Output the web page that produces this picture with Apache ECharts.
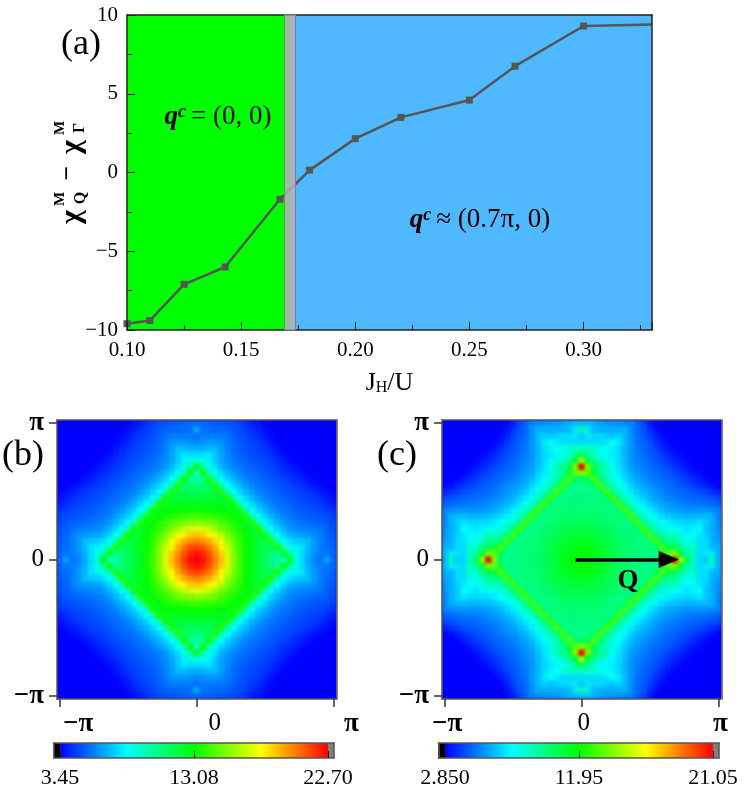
<!DOCTYPE html>
<html>
<head>
<meta charset="utf-8">
<style>
  html, body { margin: 0; padding: 0; background: #fff; }
  #heat, #chart { position: absolute; left: 0; top: 0; width: 747px; height: 796px; }
  /* the colour maps sit under the axes, softened so the cells read as a smooth map */
  #heat { filter: blur(1.6px); clip-path: path('M57 420h279.5v279h-279.5z M442 420h279.5v279h-279.5z'); }
</style>
<script src="https://cdn.jsdelivr.net/npm/echarts@6/dist/echarts.min.js"></script>
</head>
<body>
<div id="heat"></div>
<div id="chart"></div>
<script>
// panel (a)
const jhOverU = [0.10, 0.11, 0.125, 0.143, 0.167, 0.18, 0.20, 0.22, 0.25, 0.27, 0.30, 0.33];
const chiDiff = [-9.6, -9.4, -7.1, -6.0, -1.7, 0.15, 2.15, 3.5, 4.6, 6.75, 9.3, 9.4];
const phaseEdge = [0.169, 0.1738];
const phaseMid = 0.1715;

// panels (b) (c): values estimated by eye for the upper right quadrant only,
// row = distance from centre along y, column = distance from centre along x.
// the maps are symmetric so the other three quadrants are mirrored from it
const quadrantB = [
  [22.7,22.4,21.5,20.3,19.0,17.3,15.6,14.3,13.3,12.6,12.0,11.4,10.8,10.0,9.2,13.0,9.0,7.6,6.6,6.0,5.6,6.6,5.5],
  [22.4,22.0,21.2,20.0,18.8,17.1,15.5,14.2,13.3,12.6,12.0,11.5,11.0,10.2,13.4,10.0,8.8,7.6,6.8,6.2,5.8,5.6,5.4],
  [21.5,21.2,20.5,19.5,18.1,16.8,15.3,14.1,13.2,12.6,12.1,11.6,11.3,13.5,9.8,8.8,8.0,7.8,6.9,6.3,5.8,5.5,5.3],
  [20.3,20.0,19.5,18.6,17.5,16.0,15.0,13.9,13.1,12.6,12.1,11.8,13.6,9.8,8.4,7.7,7.3,7.2,7.0,6.3,5.8,5.4,5.2],
  [19.0,18.8,18.1,17.5,16.5,15.3,14.5,13.7,13.0,12.6,12.2,13.6,9.8,8.4,7.5,6.9,6.6,6.5,6.4,6.2,5.8,5.4,5.1],
  [17.3,17.1,16.8,16.0,15.3,14.6,14.0,13.4,12.9,12.4,13.6,9.8,8.4,7.5,6.9,6.4,6.1,6.0,5.9,5.8,5.6,5.3,5.0],
  [15.6,15.5,15.3,15.0,14.5,14.0,13.5,13.0,12.6,13.6,9.8,8.4,7.5,6.9,6.4,6.0,5.8,5.6,5.5,5.4,5.3,5.1,4.9],
  [14.3,14.2,14.1,13.9,13.7,13.4,13.0,12.7,13.6,9.8,8.4,7.5,6.9,6.4,6.0,5.7,5.5,5.3,5.2,5.1,5.0,4.9,4.7],
  [13.3,13.3,13.2,13.1,13.0,12.9,12.6,13.6,9.8,8.4,7.5,6.9,6.4,6.0,5.7,5.5,5.3,5.1,5.0,4.9,4.8,4.6,4.4],
  [12.6,12.6,12.6,12.6,12.6,12.4,13.6,9.8,8.4,7.5,6.9,6.4,6.0,5.7,5.5,5.3,5.1,4.9,4.8,4.7,4.5,4.3,4.0],
  [12.0,12.0,12.1,12.1,12.2,13.6,9.8,8.4,7.5,6.9,6.4,6.0,5.7,5.5,5.3,5.1,4.9,4.8,4.6,4.5,4.3,4.0,3.8],
  [11.4,11.5,11.6,11.8,13.6,9.8,8.4,7.5,6.9,6.4,6.0,5.7,5.5,5.3,5.1,4.9,4.8,4.6,4.4,4.2,3.9,3.7,3.5],
  [10.8,11.0,11.3,13.6,9.8,8.4,7.5,6.9,6.4,6.0,5.7,5.5,5.3,5.1,4.9,4.7,4.5,4.3,4.1,3.8,3.6,3.5,3.45],
  [10.0,10.2,13.5,9.8,8.4,7.5,6.9,6.4,6.0,5.7,5.5,5.3,5.1,4.9,4.7,4.5,4.3,4.0,3.8,3.5,3.45,3.45,3.45],
  [9.2,13.4,9.8,8.4,7.5,6.9,6.4,6.0,5.7,5.5,5.3,5.1,4.9,4.7,4.4,4.2,4.0,3.7,3.5,3.45,3.45,3.45,3.45],
  [13.0,10.0,8.8,7.7,6.9,6.4,6.0,5.7,5.5,5.3,5.1,4.9,4.7,4.5,4.2,4.0,3.7,3.5,3.45,3.45,3.45,3.45,3.45],
  [9.0,8.8,8.0,7.3,6.6,6.1,5.8,5.5,5.3,5.1,4.9,4.8,4.5,4.3,4.0,3.7,3.5,3.45,3.45,3.45,3.45,3.45,3.45],
  [7.6,7.6,7.8,7.2,6.5,6.0,5.6,5.3,5.1,4.9,4.8,4.6,4.3,4.0,3.7,3.5,3.45,3.45,3.45,3.45,3.45,3.45,3.45],
  [6.6,6.8,6.9,7.0,6.4,5.9,5.5,5.2,5.0,4.8,4.6,4.4,4.1,3.8,3.5,3.45,3.45,3.45,3.45,3.45,3.45,3.45,3.45],
  [6.0,6.2,6.3,6.3,6.2,5.8,5.4,5.1,4.9,4.7,4.5,4.2,3.8,3.5,3.45,3.45,3.45,3.45,3.45,3.45,3.45,3.45,3.45],
  [5.6,5.8,5.8,5.8,5.8,5.6,5.3,5.0,4.8,4.5,4.3,3.9,3.6,3.45,3.45,3.45,3.45,3.45,3.45,3.45,3.45,3.45,3.45],
  [6.6,5.6,5.5,5.4,5.4,5.3,5.1,4.9,4.6,4.3,4.0,3.7,3.5,3.45,3.45,3.45,3.45,3.45,3.45,3.45,3.45,3.45,3.45],
  [5.5,5.4,5.3,5.2,5.1,5.0,4.9,4.7,4.4,4.0,3.8,3.5,3.45,3.45,3.45,3.45,3.45,3.45,3.45,3.45,3.45,3.45,3.45]
];
const quadrantC = [
  [12.0,11.9,11.7,11.4,11.0,10.7,10.4,10.1,9.9,9.8,9.7,9.6,9.6,10.2,14.0,21.05,14.5,10.5,8.6,6.8,6.4,9.0,6.2],
  [11.9,11.9,11.6,11.4,11.0,10.7,10.4,10.1,9.9,9.8,9.7,9.6,9.6,10.4,13.6,14.0,11.0,9.2,8.5,6.8,7.0,7.0,6.2],
  [11.7,11.6,11.5,11.2,10.9,10.6,10.3,10.1,9.9,9.8,9.7,9.6,10.1,13.3,10.8,10.6,9.5,8.3,8.4,6.8,6.8,6.2,6.0],
  [11.4,11.4,11.2,11.0,10.8,10.5,10.2,10.0,9.9,9.8,9.7,10.0,13.2,10.0,9.5,9.4,8.4,7.6,8.0,6.8,6.8,6.0,5.8],
  [11.0,11.0,10.9,10.8,10.6,10.3,10.1,9.9,9.8,9.7,10.0,13.2,9.8,8.9,8.6,8.6,8.0,7.3,7.6,7.0,6.6,6.0,5.6],
  [10.7,10.7,10.6,10.5,10.3,10.1,9.9,9.8,9.7,10.0,13.1,9.7,8.7,8.0,7.8,7.7,7.3,7.0,7.2,7.4,6.4,6.0,5.5],
  [10.4,10.4,10.3,10.2,10.1,9.9,9.8,9.7,10.0,13.1,9.6,8.6,7.9,7.4,7.1,6.9,6.8,6.7,6.8,7.0,6.6,6.0,5.4],
  [10.1,10.1,10.1,10.0,9.9,9.8,9.7,10.0,13.1,9.6,8.5,7.8,7.2,6.8,6.5,6.3,6.2,6.1,6.1,6.2,6.2,6.0,5.3],
  [9.9,9.9,9.9,9.9,9.8,9.7,10.0,13.1,9.6,8.5,7.8,7.1,6.6,6.2,5.9,5.7,5.6,5.5,5.5,5.5,5.5,5.4,5.2],
  [9.8,9.8,9.8,9.8,9.7,10.0,13.1,9.6,8.5,7.6,7.0,6.5,6.1,5.8,5.6,5.4,5.2,5.1,5.0,4.9,4.8,4.7,4.6],
  [9.7,9.7,9.7,9.7,10.0,13.1,9.6,8.5,7.8,7.0,6.6,6.1,5.8,5.5,5.3,5.1,4.9,4.8,4.7,4.6,4.5,4.3,4.1],
  [9.6,9.6,9.6,10.0,13.2,9.7,8.6,7.8,7.1,6.5,6.1,5.8,5.5,5.2,5.0,4.8,4.7,4.5,4.4,4.2,4.0,3.7,3.4],
  [9.6,9.6,10.1,13.2,9.8,8.7,7.9,7.2,6.6,6.1,5.8,5.5,5.3,5.0,4.8,4.6,4.4,4.2,4.0,3.7,3.4,3.1,2.9],
  [10.2,10.4,13.3,10.0,8.9,8.0,7.4,6.8,6.2,5.8,5.5,5.2,5.0,4.8,4.6,4.4,4.1,3.9,3.6,3.3,3.0,2.85,2.85],
  [14.0,13.6,10.8,9.5,8.6,7.8,7.1,6.5,5.9,5.6,5.3,5.0,4.8,4.6,4.4,4.1,3.8,3.5,3.2,2.95,2.85,2.85,2.85],
  [21.05,14.0,10.6,9.4,8.6,7.7,6.9,6.3,5.7,5.4,5.1,4.8,4.6,4.4,4.1,3.8,3.5,3.2,2.95,2.85,2.85,2.85,2.85],
  [14.5,11.0,9.5,8.4,8.0,7.3,6.8,6.2,5.6,5.2,4.9,4.7,4.4,4.1,3.8,3.5,3.2,2.95,2.85,2.85,2.85,2.85,2.85],
  [10.5,9.2,8.3,7.6,7.3,7.0,6.7,6.1,5.5,5.1,4.8,4.5,4.2,3.9,3.5,3.2,2.95,2.85,2.85,2.85,2.85,2.85,2.85],
  [8.6,8.5,8.4,8.0,7.6,7.2,6.8,6.1,5.5,5.0,4.7,4.4,4.0,3.6,3.2,2.95,2.85,2.85,2.85,2.85,2.85,2.85,2.85],
  [6.8,6.8,6.8,6.8,7.0,7.4,7.0,6.2,5.5,4.9,4.6,4.2,3.7,3.3,2.95,2.85,2.85,2.85,2.85,2.85,2.85,2.85,2.85],
  [6.4,7.0,6.8,6.8,6.6,6.4,6.6,6.2,5.5,4.8,4.5,4.0,3.4,3.0,2.85,2.85,2.85,2.85,2.85,2.85,2.85,2.85,2.85],
  [9.0,7.0,6.2,6.0,6.0,6.0,6.0,6.0,5.4,4.7,4.3,3.7,3.1,2.85,2.85,2.85,2.85,2.85,2.85,2.85,2.85,2.85,2.85],
  [6.2,6.2,6.0,5.8,5.6,5.5,5.4,5.3,5.2,4.6,4.1,3.4,2.9,2.85,2.85,2.85,2.85,2.85,2.85,2.85,2.85,2.85,2.85]
];

// colour bars
const rangeB = [3.45, 22.70];
const rangeC = [2.85, 21.05];
const midB = 13.08;
const midC = 11.95;
const barLabelsB = ['3.45', '13.08', '22.70'];
const barLabelsC = ['2.850', '11.95', '21.05'];
const barLimitsB = [2.98, 23.13];
const barLimitsC = [2.395, 21.46];
const jetColors = ['#0000ff', '#00ffff', '#00ff00', '#ffff00', '#ff0000'];

const serif = '"Liberation Serif", serif';
const cellIdx = [];
for (let i = 0; i <= 44; i++) cellIdx.push(String(i));
const piLabels = { 0: '{p|\u2212\u03c0}', 22: '0', 44: '{p|\u03c0}' };

function mirror(q) {
  const out = [];
  for (let y = -22; y <= 22; y++) {
    for (let x = -22; x <= 22; x++) {
      out.push([x + 22, y + 22, q[Math.abs(y)][Math.abs(x)]]);
    }
  }
  return out;
}

// colour maps, lower layer
let heatChart = echarts.init(document.getElementById('heat'));
heatChart.setOption({
  backgroundColor: '#0000ff',
  animation: false,
  grid: [
    { left: 57, top: 420, width: 279.5, height: 279 },
    { left: 442, top: 420, width: 279.5, height: 279 }
  ],
  xAxis: [
    { type: 'category', gridIndex: 0, data: cellIdx, show: false },
    { type: 'category', gridIndex: 1, data: cellIdx, show: false }
  ],
  yAxis: [
    { type: 'category', gridIndex: 0, data: cellIdx, show: false },
    { type: 'category', gridIndex: 1, data: cellIdx, show: false }
  ],
  visualMap: [
    { show: false, seriesIndex: 0, min: rangeB[0], max: rangeB[1], inRange: { color: jetColors } },
    { show: false, seriesIndex: 1, min: rangeC[0], max: rangeC[1], inRange: { color: jetColors } }
  ],
  series: [
    { name: 'b', type: 'heatmap', xAxisIndex: 0, yAxisIndex: 0, data: mirror(quadrantB), progressive: 0, silent: true },
    { name: 'c', type: 'heatmap', xAxisIndex: 1, yAxisIndex: 1, data: mirror(quadrantC), progressive: 0, silent: true }
  ]
});

let myChart = echarts.init(document.getElementById('chart'));

function word(text, x, y, size, extra) {
  return Object.assign({
    type: 'text', x: x, y: y, z: 30,
    style: Object.assign({
      text: text, font: size + 'px ' + serif, fill: '#000',
      align: 'center', verticalAlign: 'middle'
    }, extra || {})
  });
}

function rotated(text, x, y, size, weight) {
  let el = word(text, x, y, size, { font: weight + ' ' + size + 'px ' + serif });
  el.rotation = Math.PI / 2;
  return el;
}

const mathRich = {
  q: { fontFamily: serif, fontSize: 27, fontStyle: 'italic', fontWeight: 'bold', fill: '#000' },
  c: { fontFamily: serif, fontSize: 18, fontStyle: 'italic', fontWeight: 'bold', fill: '#000', verticalAlign: 'top', padding: [0, 5, 8, 0] },
  t: { fontFamily: serif, fontSize: 27, fontWeight: 'normal', fill: '#000' }
};

function heatAxes(gridIndex, labelShift) {
  const tickAt = (i) => i === 0 || i === 22 || i === 44;
  const line = { show: true, lineStyle: { color: '#555', width: 1.5 } };
  const piRich = { p: { fontFamily: serif, fontSize: 27, fontWeight: 'bold', color: '#000' } };
  return {
    x: [
      { type: 'category', gridIndex: gridIndex, data: cellIdx, position: 'bottom', z: 5, axisLine: line,
        axisTick: { show: true, interval: (i) => tickAt(i), alignWithLabel: true, length: 8, lineStyle: { color: '#333', width: 1.5 } },
        axisLabel: { interval: (i) => tickAt(i), formatter: (v, i) => piLabels[i], margin: 12, fontFamily: serif, fontSize: 25, color: '#000', rich: piRich,
          padding: [0, 0, 0, labelShift] }, splitLine: { show: false } },
      { type: 'category', gridIndex: gridIndex, data: cellIdx, position: 'top', z: 5, axisLine: line,
        axisTick: { show: false }, axisLabel: { show: false } }
    ],
    y: [
      { type: 'category', gridIndex: gridIndex, data: cellIdx, position: 'left', z: 5, axisLine: line,
        axisTick: { show: true, interval: (i) => tickAt(i), alignWithLabel: true, length: 8, lineStyle: { color: '#333', width: 1.5 } },
        axisLabel: { interval: (i) => tickAt(i), formatter: (v, i) => piLabels[i], margin: 13, fontFamily: serif, fontSize: 25, color: '#000', rich: piRich },
        splitLine: { show: false } },
      { type: 'category', gridIndex: gridIndex, data: cellIdx, position: 'right', z: 5, axisLine: line,
        axisTick: { show: false }, axisLabel: { show: false } }
    ]
  };
}

function barAxes(gridIndex, limits, ticks, labels) {
  const line = { show: true, onZero: false, lineStyle: { color: '#555', width: 1.5 } };
  return {
    x: [
      { type: 'value', gridIndex: gridIndex, min: limits[0], max: limits[1], position: 'bottom', z: 5, splitLine: { show: false }, axisLine: line,
        axisTick: { show: true, inside: true, length: 7, customValues: ticks, lineStyle: { color: '#222', width: 1 } },
        axisLabel: { customValues: ticks, margin: 9, fontFamily: serif, fontSize: 22, color: '#000',
          formatter: (v) => labels[ticks.indexOf(v)] } },
      { type: 'value', gridIndex: gridIndex, min: limits[0], max: limits[1], position: 'top', z: 5, splitLine: { show: false }, axisLine: line,
        axisTick: { show: false }, axisLabel: { show: false } }
    ],
    y: [
      { type: 'category', gridIndex: gridIndex, data: ['bar'], position: 'left', z: 5, axisLine: { show: true, lineStyle: { color: '#555', width: 1.5 } },
        axisTick: { show: false }, axisLabel: { show: false } },
      { type: 'category', gridIndex: gridIndex, data: ['bar'], position: 'right', z: 5, axisLine: { show: true, lineStyle: { color: '#555', width: 1.5 } },
        axisTick: { show: false }, axisLabel: { show: false } }
    ]
  };
}

function barSeries(axisIndex, range, stackName) {
  const common = { type: 'bar', xAxisIndex: axisIndex, yAxisIndex: axisIndex, stack: stackName, barWidth: '100%', silent: true };
  const stops = jetColors.map((c, k) => ({ offset: k / 4, color: c }));
  return [
    Object.assign({}, common, { data: [range[0]], itemStyle: { color: '#000' } }),
    Object.assign({}, common, { data: [range[1] - range[0]], itemStyle: { color: new echarts.graphic.LinearGradient(0, 0, 1, 0, stops) } }),
    Object.assign({}, common, { data: [1], itemStyle: { color: '#808080' } })
  ];
}

const hb = heatAxes(1, 36);
const hc = heatAxes(2, 4);
const bb = barAxes(3, barLimitsB, [rangeB[0], midB, rangeB[1]], barLabelsB);
const bc = barAxes(4, barLimitsC, [rangeC[0], midC, rangeC[1]], barLabelsC);
const frameA = { show: true, onZero: false, lineStyle: { color: '#222', width: 1.5 } };
const lastPoint = jhOverU.length - 1;

let option = {
  animation: false,
  grid: [
    { left: 127, top: 15, width: 525, height: 315 },
    { left: 57, top: 420, width: 279.5, height: 279 },
    { left: 442, top: 420, width: 279.5, height: 279 },
    { left: 53.5, top: 743, width: 280.5, height: 15 },
    { left: 438.3, top: 743, width: 280.7, height: 15 }
  ],
  xAxis: [
    { type: 'value', gridIndex: 0, min: 0.10, max: 0.33, interval: 0.05, position: 'bottom', z: 10,
      axisLine: frameA, splitLine: { show: false },
      axisTick: { show: true, inside: true, length: 8, lineStyle: { color: '#222', width: 1 } },
      minorTick: { show: true, splitNumber: 2, length: 5, lineStyle: { color: '#222', width: 1 } },
      axisLabel: { showMaxLabel: false, margin: 10, fontFamily: serif, fontSize: 21, color: '#000', formatter: (v) => v.toFixed(2) },
      name: '{j|J}{h|H}{j|/U}', nameLocation: 'middle', nameGap: 40,
      nameTextStyle: { rich: {
        j: { fontFamily: serif, fontSize: 26, color: '#000' },
        h: { fontFamily: serif, fontSize: 16, color: '#000', verticalAlign: 'bottom', padding: [10, 0, 0, 0] }
      } } },
    { type: 'value', gridIndex: 0, min: 0.10, max: 0.33, position: 'top', z: 10, axisLine: frameA,
      splitLine: { show: false }, axisTick: { show: false }, axisLabel: { show: false } },
    hb.x[0], hb.x[1], hc.x[0], hc.x[1], bb.x[0], bb.x[1], bc.x[0], bc.x[1]
  ],
  yAxis: [
    { type: 'value', gridIndex: 0, min: -10, max: 10, interval: 5, position: 'left', z: 10,
      axisLine: frameA, splitLine: { show: false },
      axisTick: { show: true, inside: true, length: 8, lineStyle: { color: '#222', width: 1 } },
      minorTick: { show: true, splitNumber: 2, length: 5, lineStyle: { color: '#222', width: 1 } },
      axisLabel: { margin: 9, fontFamily: serif, fontSize: 21, color: '#000', formatter: (v) => String(v).replace('-', '\u2212') } },
    { type: 'value', gridIndex: 0, min: -10, max: 10, position: 'right', z: 10, axisLine: frameA,
      splitLine: { show: false }, axisTick: { show: false }, axisLabel: { show: false } },
    hb.y[0], hb.y[1], hc.y[0], hc.y[1], bb.y[0], bb.y[1], bc.y[0], bc.y[1]
  ],
  series: [
    {
      name: 'chi', type: 'line', xAxisIndex: 0, yAxisIndex: 0,
      data: jhOverU.map((x, k) => (k === lastPoint ? { value: [x, chiDiff[k]], symbol: 'none' } : [x, chiDiff[k]])),
      symbol: 'rect', symbolSize: 7, z: 3,
      lineStyle: { color: '#555', width: 2.5 },
      itemStyle: { color: '#555' },
      markArea: {
        silent: true,
        data: [
          [{ xAxis: jhOverU[0], itemStyle: { color: '#00ff00', opacity: 1 } }, { xAxis: phaseMid }],
          [{ xAxis: phaseMid, itemStyle: { color: '#4fb8ff', opacity: 1 } }, { xAxis: 0.33 }]
        ]
      }
    },
    {
      name: 'boundary', type: 'line', xAxisIndex: 0, yAxisIndex: 0, data: [], clip: false, z: 12,
      markArea: {
        silent: true, z: 12,
        itemStyle: { color: 'rgba(190,175,188,0.8)', borderColor: '#808080', borderWidth: 1 },
        data: [[{ xAxis: phaseEdge[0], yAxis: -10 }, { xAxis: phaseEdge[1], yAxis: 10.12 }]]
      }
    },
    {
      name: 'arrowQ', type: 'line', xAxisIndex: 4, yAxisIndex: 4, data: [],
      markLine: {
        silent: true, z: 10, symbol: ['none', 'triangle'], symbolSize: [17, 20],
        lineStyle: { color: '#000', width: 3.5, type: 'solid' }, label: { show: false },
        data: [[{ coord: ['21', '22'] }, { coord: ['36', '22'] }]]
      }
    }
  ].concat(barSeries(6, rangeB, 'barB'), barSeries(8, rangeC, 'barC')),
  graphic: { elements: [
    word('(a)', 81, 45, 36),
    word('(b)', 23, 456, 36),
    word('(c)', 397, 456, 36),
    word('Q', 628, 581, 27, { font: 'bold 27px ' + serif }),
    { type: 'text', x: 218, y: 117, z: 30, style: { text: '{q|q}{c|c}{t|= (0, 0)}', rich: mathRich, align: 'center', verticalAlign: 'middle' } },
    { type: 'text', x: 480, y: 220, z: 30, style: { text: '{q|q}{c|c}{t|\u2248 (0.7\u03c0, 0)}', rich: mathRich, align: 'center', verticalAlign: 'middle' } },
    rotated('\u03c7', 72, 217, 30, 'bold'),
    rotated('Q', 81, 198, 16, 'bold'),
    rotated('M', 60, 199, 15, 'bold'),
    rotated('\u2212', 68, 173, 26, 'bold'),
    rotated('\u03c7', 72, 147, 30, 'bold'),
    rotated('\u0393', 80, 128, 16, 'bold'),
    rotated('M', 60, 128, 15, 'bold')
  ] }
};
myChart.setOption(option);
</script>
</body>
</html>
